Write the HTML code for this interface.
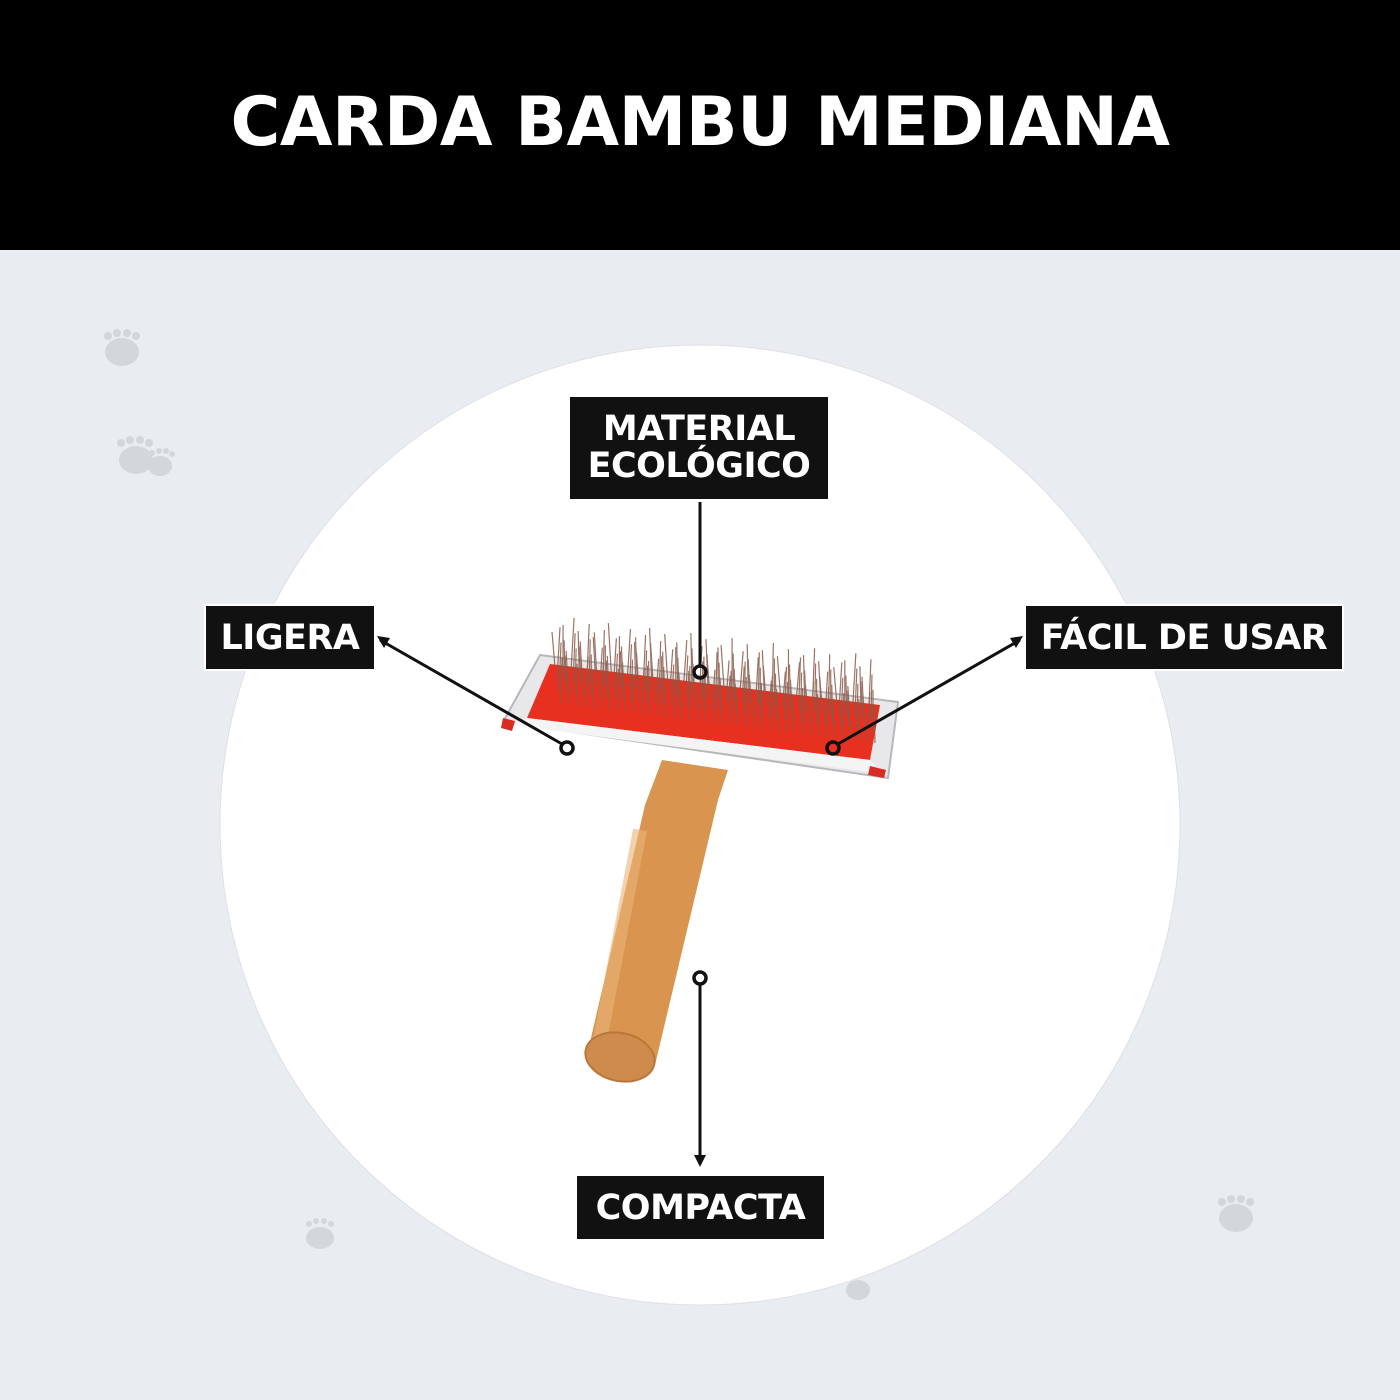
<!DOCTYPE html>
<html><head><meta charset="utf-8"><style>
body{margin:0;width:1400px;height:1400px;overflow:hidden;background:#e9edf2;font-family:"DejaVu Sans","Liberation Sans",sans-serif}
.hdr{position:absolute;left:0;top:0;width:1400px;height:250px;background:#000;color:#fff;font-weight:bold;font-size:68px;text-align:center;line-height:246px;letter-spacing:-0.5px}
.lb{position:absolute;background:#111;color:#fff;font-weight:bold;border:2px solid #fff;box-sizing:border-box;text-align:center;font-size:35px;display:flex;align-items:center;justify-content:center;line-height:38px;letter-spacing:-0.5px}
</style></head><body>
<div class="hdr">CARDA BAMBU MEDIANA</div>
<svg width="1400" height="1400" style="position:absolute;left:0;top:0">
<g fill="#d3d6db">
<ellipse cx="122" cy="352" rx="17" ry="14"/><circle cx="108" cy="336" r="4"/><circle cx="117" cy="333" r="4"/><circle cx="127" cy="333" r="4"/><circle cx="136" cy="336" r="4"/>
<ellipse cx="136" cy="460" rx="17" ry="14"/><circle cx="121" cy="443" r="4"/><circle cx="130" cy="440" r="4"/><circle cx="140" cy="440" r="4"/><circle cx="149" cy="443" r="4"/>
<ellipse cx="160" cy="466" rx="12" ry="10"/><circle cx="152" cy="453" r="3"/><circle cx="159" cy="451" r="3"/><circle cx="166" cy="451" r="3"/><circle cx="172" cy="454" r="3"/>
<ellipse cx="320" cy="1238" rx="14" ry="11"/><circle cx="309" cy="1224" r="3"/><circle cx="316" cy="1221" r="3"/><circle cx="324" cy="1221" r="3"/><circle cx="331" cy="1224" r="3"/>
<ellipse cx="1236" cy="1218" rx="17" ry="14"/><circle cx="1222" cy="1202" r="4"/><circle cx="1231" cy="1199" r="4"/><circle cx="1241" cy="1199" r="4"/><circle cx="1250" cy="1202" r="4"/>
</g>
<circle cx="700" cy="825" r="480" fill="#fff" stroke="#dde0e4" stroke-width="1"/>
<ellipse cx="858" cy="1290" rx="12" ry="10" fill="#d3d6db"/>
<!-- handle -->
<path d="M662 760 L728 770 L718 800 L655 1065 L587 1055 L645 805 Z" fill="#d9954f"/>
<path d="M640 830 L600 1040" stroke="#eab57a" stroke-width="14" opacity=".6"/>
<ellipse cx="620" cy="1057" rx="35" ry="24" transform="rotate(12 620 1057)" fill="#cf8b4b" stroke="#b8773a" stroke-width="2"/>
<!-- frame -->
<polygon points="540,655 898,702 888,778 503,722" fill="#e8e8ea" stroke="#b8b8bc" stroke-width="2"/>
<polygon points="550,664 880,705 870,760 527,718" fill="#e83020"/>
<polygon points="527,718 870,760 885,774 510,725" fill="#f4f4f5"/>
<polygon points="503,718 515,721 512,731 501,728" fill="#d72b24"/>
<polygon points="870,766 886,770 884,778 868,775" fill="#d72b24"/>
<g stroke="#8a5a48" stroke-width="1.2" opacity=".85" id="br"></g>
<!-- connectors -->
<g stroke="#111" stroke-width="3" fill="none">
<line x1="700" y1="502" x2="700" y2="666"/>
<line x1="380" y1="640" x2="562" y2="744"/>
<line x1="1020" y1="640" x2="838" y2="744"/>
<line x1="700" y1="984" x2="700" y2="1158"/>
<circle cx="700" cy="672" r="6" stroke-width="3.5"/>
<circle cx="567" cy="748" r="6" stroke-width="3.5"/>
<circle cx="833" cy="748" r="6" stroke-width="3.5"/>
<circle cx="700" cy="978" r="6" stroke-width="3.5"/>
</g>
<g fill="#111">
<polygon points="377,636 390,638 384,648"/>
<polygon points="1023,636 1010,638 1016,648"/>
<polygon points="700,1167 694,1155 706,1155"/>
</g>
</svg>
<div class="lb" style="left:568px;top:395px;width:262px;height:106px;line-height:37px">MATERIAL<br>ECOLÓGICO</div>
<div class="lb" style="left:204px;top:604px;width:172px;height:67px">LIGERA</div>
<div class="lb" style="left:1024px;top:604px;width:320px;height:67px">FÁCIL DE USAR</div>
<div class="lb" style="left:575px;top:1174px;width:251px;height:67px">COMPACTA</div>
<script>
var g=document.getElementById('br'),s='';
for(var i=0;i<160;i++){var t=i/159;var x=555+t*320,yb=667+t*40+ (i%4)*12;var h=35+((i*37)%20);s+='<line x1="'+x+'" y1="'+yb+'" x2="'+(x+((i*13)%7-3))+'" y2="'+(yb-h)+'"/>';}
g.innerHTML=s;
</script>
</body></html>
